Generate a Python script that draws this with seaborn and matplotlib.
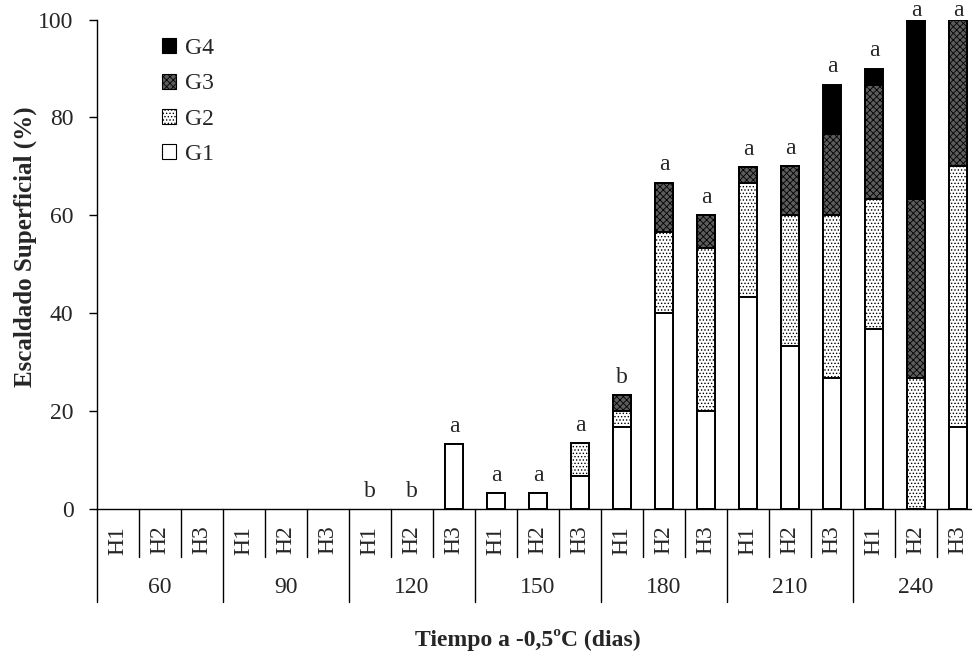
import matplotlib
matplotlib.use("Agg")
import matplotlib.pyplot as plt
import matplotlib.transforms as mtransforms
from matplotlib.patches import Patch
import seaborn as sns
import pandas as pd
import numpy as np

# ---- data ----
days = ["60", "90", "120", "150", "180", "210", "240"]
hybrids = ["H1", "H2", "H3"]
g1 = [0, 0, 0, 0, 0, 0, 0, 0, 13.3, 3.3, 3.3, 6.7, 16.7, 40.0, 20.0, 43.3, 33.3, 26.7, 36.7, 0, 16.7]
g2 = [0, 0, 0, 0, 0, 0, 0, 0, 0, 0, 0, 6.7, 3.3, 16.7, 33.3, 23.3, 26.7, 33.3, 26.7, 26.7, 53.3]
g3 = [0, 0, 0, 0, 0, 0, 0, 0, 0, 0, 0, 0, 3.3, 10.0, 6.7, 3.3, 10.0, 16.7, 23.3, 36.7, 30.0]
g4 = [0, 0, 0, 0, 0, 0, 0, 0, 0, 0, 0, 0, 0, 0, 0, 0, 0, 10.0, 3.3, 36.6, 0]
letters = ["", "", "", "", "", "", "b", "b", "a", "a", "a", "a", "b", "a", "a",
           "a", "a", "a", "a", "a", "a"]
series = ["G1", "G2", "G3", "G4"]
yticks = [0, 20, 40, 60, 80, 100]

sns.set_theme(style="white")
plt.rcParams["font.family"] = ["Liberation Serif", "DejaVu Serif"]
plt.rcParams["hatch.linewidth"] = 0.6

keys = [f"{d}-{h}" for d in days for h in hybrids]
hlabels = [h for d in days for h in hybrids]
df = pd.DataFrame({"key": keys, "G1": g1, "G2": g2, "G3": g3, "G4": g4})
df["c1"] = df["G1"]
df["c2"] = df["c1"] + df["G2"]
df["c3"] = df["c2"] + df["G3"]
df["c4"] = df["c3"] + df["G4"]

styles = {
    "G4": dict(color="black", hatch=None),
    "G3": dict(color="#5c5c5c", hatch="xxxxx"),
    "G2": dict(color="white", hatch="....."),
    "G1": dict(color="white", hatch=None),
}

fig = plt.figure(figsize=(9.72, 6.57), dpi=100)
ax = fig.add_axes([97 / 972, 148 / 657, 882 / 972, 489.4 / 657])

for col, g in zip(["c4", "c3", "c2", "c1"], ["G4", "G3", "G2", "G1"]):
    st = styles[g]
    sns.barplot(data=df, x="key", y=col, order=keys, color=st["color"],
                saturation=1, width=0.42, edgecolor="black", linewidth=1.4,
                hatch=st["hatch"], ax=ax, errorbar=None)

# hide empty (zero-height) bars
for p in ax.patches:
    if p.get_height() == 0:
        p.set_visible(False)

ax.set_ylim(0, 100)
ax.set_xlim(-0.5, len(keys) - 0.5)
ax.set_yticks(yticks)
ax.set_yticklabels([str(v) for v in yticks], fontsize=17)
ax.tick_params(axis="y", direction="out", length=6, width=1, color="black", pad=11, left=True)
ax.set_ylabel("Escaldado Superficial (%)", fontsize=18, fontweight="bold")
ax.yaxis.set_label_coords(-0.068, 0.536)

for s in ["top", "right"]:
    ax.spines[s].set_visible(False)
for s in ["left", "bottom"]:
    ax.spines[s].set_color("black")
    ax.spines[s].set_linewidth(1.0)

# x tick labels (hybrids)
ax.set_xticks(range(len(keys)))
ax.set_xticklabels(hlabels, rotation=90, fontsize=17)
ax.tick_params(axis="x", length=0, pad=12)
ax.set_xlabel("Tiempo a -0,5ºC (dias)", fontsize=17, fontweight="bold")
ax.xaxis.label.set_va("center")
ax.xaxis.set_label_coords(0.489, -0.268)

trans = mtransforms.blended_transform_factory(ax.transData, ax.transAxes)
for i in range(len(keys) + 1):
    x = i - 0.5
    low = -0.19 if i % 3 == 0 else -0.098
    ax.plot([x, x], [0, low], color="black", lw=1.0, transform=trans, clip_on=False)
for j, d in enumerate(days):
    ax.text(3 * j + 1, -0.16, d, transform=trans, ha="center", va="center", fontsize=17)

# letters
for i, (k, lt) in enumerate(zip(keys, letters)):
    if lt:
        tot = df.loc[i, "c4"]
        ypos = min(tot + 2.5, 100.8)
        ax.text(i, ypos, lt, ha="center", va="baseline", fontsize=17, clip_on=False)

handles = [Patch(facecolor=styles[g]["color"], hatch=styles[g]["hatch"], edgecolor="black",
                 linewidth=0.8, label=g) for g in ["G4", "G3", "G2", "G1"]]
leg = ax.legend(handles=handles, loc="upper left", bbox_to_anchor=(141 / 972, 1 - 17 / 657),
                bbox_transform=fig.transFigure, frameon=False, fontsize=17,
                handlelength=0.6, handleheight=0.6, handletextpad=0.35, labelspacing=0.6)

fig.savefig("out.png", dpi=100)
